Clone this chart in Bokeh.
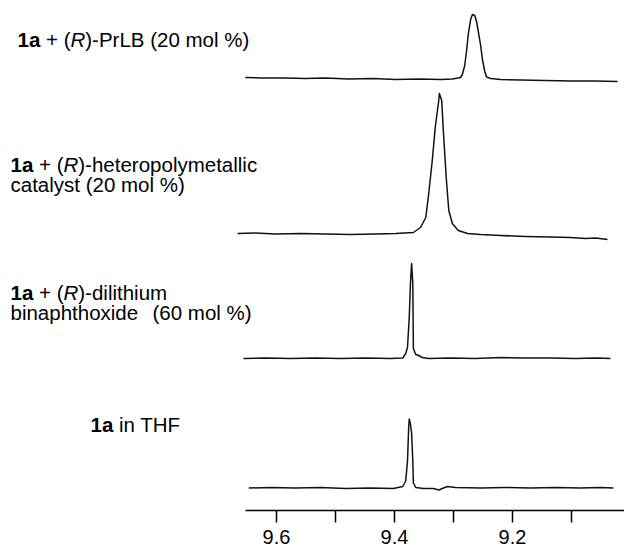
from bokeh.plotting import figure
from bokeh.models import Range1d, FixedTicker, Label
from bokeh.embed import file_html
from bokeh.resources import INLINE

# ---------------- data ----------------
tick_values = [9.6, 9.5, 9.4, 9.3, 9.2, 9.1]
tick_labels = ["9.6", "", "9.4", "", "9.2", ""]

# 1a + (R)-PrLB (20 mol %)
prlb_ppm = [9.653, 9.624, 9.585, 9.551, 9.517, 9.478, 9.437, 9.398, 9.359, 9.322,
            9.302, 9.288, 9.285, 9.281, 9.278, 9.275, 9.271, 9.268, 9.264, 9.261,
            9.258, 9.254, 9.251, 9.247, 9.244, 9.237, 9.220, 9.186, 9.144, 9.102,
            9.059, 9.022]
prlb_int = [2, 1.5, 1.5, 1, 1.5, 0.5, 1, 0, 0.5, 0,
            0.5, 2, 5, 14, 28, 45, 60, 65, 64, 58,
            48, 34, 20, 8, 2.5, 1, 0, -0.5, -1, -1.5,
            -1.5, -2]

# 1a + (R)-heteropolymetallic catalyst (20 mol %)
hetero_ppm = [9.666, 9.636, 9.602, 9.559, 9.517, 9.475, 9.432, 9.398, 9.368, 9.356,
              9.347, 9.342, 9.336, 9.331, 9.325, 9.324, 9.320, 9.317, 9.312, 9.308,
              9.302, 9.292, 9.276, 9.254, 9.220, 9.178, 9.136, 9.102, 9.076, 9.059,
              9.039]
hetero_int = [1, 1.5, 0.5, 1, 0.5, 0, 0.5, 1, 2, 7,
              17, 41, 74, 107, 134, 141, 134, 101, 54, 24,
              11, 4, 1, 0, -1, -2, -2.5, -3, -4, -3.5,
              -5]

# 1a + (R)-dilithium binaphthoxide (60 mol %)
dili_ppm = [9.656, 9.619, 9.576, 9.534, 9.492, 9.449, 9.407, 9.386, 9.381, 9.378,
            9.375, 9.373, 9.371, 9.369, 9.368, 9.364, 9.359, 9.353, 9.342, 9.305,
            9.263, 9.220, 9.178, 9.136, 9.093, 9.059, 9.034]
dili_int = [0, 0.5, 0, 0.5, 0, 0.5, 0, 0.5, 5, 11,
            41, 75, 95, 75, 10, 4, 3, 1, 0, 0.5,
            0, 1, 0.5, 0.5, 0, 0.5, 0]

# 1a in THF
thf_ppm = [9.647, 9.610, 9.568, 9.525, 9.483, 9.441, 9.402, 9.386, 9.381, 9.378,
           9.376, 9.375, 9.373, 9.371, 9.369, 9.368, 9.364, 9.351, 9.334, 9.325,
           9.317, 9.310, 9.297, 9.254, 9.212, 9.169, 9.127, 9.085, 9.051, 9.029]
thf_int = [0, 0.5, 0, 0.5, -0.5, 0, -0.5, 1.5, 7, 27,
           60, 69, 64, 55, 27, 5, 0.5, -0.5, -0.5, -2,
           0, 1.5, 0.5, 0, 0.5, 0, 0.5, 0, 0.5, 0]

# ---------------- layout ----------------
FONT = "Liberation Sans"
FS = 20.5
trace_offsets = [431, 276, 152, 22.5]   # vertical stacking of the spectra

p = figure(width=624, height=546, output_backend="svg", toolbar_location=None,
           x_range=Range1d(10.0678, 9.0102), y_range=Range1d(0, 510),
           y_axis_location=None, min_border_left=0, min_border_right=0,
           min_border_top=0, min_border_bottom=0, background_fill_color="white",
           border_fill_color="white", outline_line_color=None)
p.grid.visible = False

series = [(prlb_ppm, prlb_int), (hetero_ppm, hetero_int), (dili_ppm, dili_int), (thf_ppm, thf_int)]
for (xs, ys), off in zip(series, trace_offsets):
    p.line(xs, [v + off for v in ys], line_color="#111111", line_width=1.5, line_join="round")

ax = p.xaxis[0]
ax.ticker = FixedTicker(ticks=tick_values, minor_ticks=[])
ax.major_label_overrides = {v: l for v, l in zip(tick_values, tick_labels)}
ax.bounds = (9.0102, 9.6525)
ax.axis_line_color = "black"
ax.axis_line_width = 1.5
ax.major_tick_line_color = "black"
ax.major_tick_line_width = 1.5
ax.major_tick_in = 0
ax.major_tick_out = 12
ax.minor_tick_line_color = None
ax.major_label_standoff = 7
ax.major_label_text_font = FONT
ax.major_label_text_font_size = "20px"
ax.major_label_text_color = "black"

# character widths (per 1000 em) for placing styled runs side by side
W = {"1": 556, "a": 556, " ": 278, "+": 584, "(": 333, "R": 722, "i": 222, "n": 556}


def run_width(s):
    return sum(W[c] for c in s) * FS / 1000.0


def rich_label(runs, x0, y):
    x = x0
    for text, style in runs:
        stripped = text.lstrip(" ")
        lead = run_width(text[: len(text) - len(stripped)])
        p.add_layout(Label(x=x + lead, y=y, x_units="screen", y_units="data", text=stripped,
                           text_font=FONT, text_font_size=f"{FS}px", text_font_style=style,
                           text_color="black", text_baseline="alphabetic", text_align="left"))
        if all(c in W for c in text):
            x += run_width(text)


rich_label([("1a", "bold"), (" + (", "normal"), ("R", "italic"), (")-PrLB (20 mol %)", "normal")], 17, 471)
rich_label([("1a", "bold"), (" + (", "normal"), ("R", "italic"), (")-heteropolymetallic", "normal")], 10, 346.5)
rich_label([("catalyst (20 mol %)", "normal")], 10, 326.5)
rich_label([("1a", "bold"), (" + (", "normal"), ("R", "italic"), (")-dilithium", "normal")], 10, 218)
rich_label([("binaphthoxide", "normal")], 10, 198)
rich_label([("(60 mol %)", "normal")], 152, 198)
rich_label([("1a", "bold"), (" in THF", "normal")], 90, 86)

open("out.html", "w").write(file_html(p, INLINE))
